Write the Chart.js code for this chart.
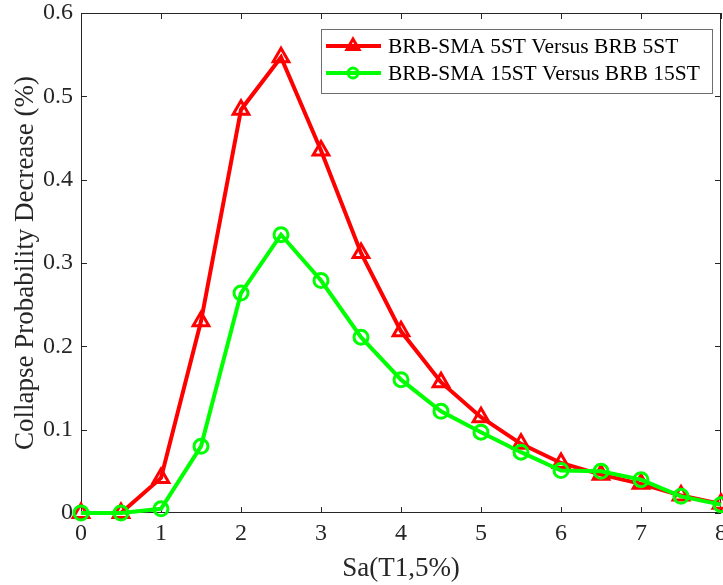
<!DOCTYPE html>
<html>
<head>
<meta charset="utf-8">
<script src="https://cdn.jsdelivr.net/npm/chart.js@4/dist/chart.umd.min.js"></script>
<style>
    html, body { margin: 0; padding: 0; background: #fff; }
    canvas { display: block; }
</style>
</head>
<body>
<canvas id="collapseChart" width="723" height="585"></canvas>
<script>
const saValues = [0, 0.5, 1, 1.5, 2, 2.5, 3, 3.5, 4, 4.5, 5, 5.5, 6, 6.5, 7, 7.5, 8];
const decrease5ST = [0, 0, 0.042, 0.23, 0.484, 0.547, 0.435, 0.312, 0.218, 0.157, 0.115, 0.083, 0.06, 0.046, 0.035, 0.021, 0.011];
const decrease15ST = [0, 0, 0.005, 0.08, 0.264, 0.334, 0.279, 0.211, 0.16, 0.122, 0.097, 0.073, 0.051, 0.05, 0.04, 0.02, 0.01];
const seriesNames = ["BRB-SMA 5ST Versus BRB 5ST", "BRB-SMA 15ST Versus BRB 15ST"];
const xTickLabels = ["0", "1", "2", "3", "4", "5", "6", "7", "8"];
const yTickLabels = ["0", "0.1", "0.2", "0.3", "0.4", "0.5", "0.6"];

const serif = "\"Liberation Serif\", \"Times New Roman\", serif";
const axisColor = "#262626";

function toPoints(xs, ys) {
    return xs.map((x, i) => ({ x: x, y: ys[i] }));
}

// MATLAB-style box with inward ticks on all four sides
const boxPlugin = {
    id: "box",
    beforeDatasetsDraw(chart) {
        const { ctx, chartArea: a, scales } = chart;
        const len = 6;
        ctx.save();
        ctx.strokeStyle = axisColor;
        ctx.lineWidth = 1;
        ctx.strokeRect(a.left + 0.5, a.top + 0.5, a.right - a.left - 1, a.bottom - a.top - 1);
        ctx.beginPath();
        scales.x.ticks.forEach(t => {
            const px = Math.round(scales.x.getPixelForValue(t.value)) + 0.5;
            ctx.moveTo(px, a.bottom);
            ctx.lineTo(px, a.bottom - len);
            ctx.moveTo(px, a.top);
            ctx.lineTo(px, a.top + len);
        });
        scales.y.ticks.forEach(t => {
            const py = Math.round(scales.y.getPixelForValue(t.value)) + 0.5;
            ctx.moveTo(a.left, py);
            ctx.lineTo(a.left + len, py);
            ctx.moveTo(a.right, py);
            ctx.lineTo(a.right - len, py);
        });
        ctx.stroke();
        ctx.restore();
    }
};

const legendBoxPlugin = {
    id: "legendBox",
    afterDatasetsDraw(chart) {
        const { ctx } = chart;
        const left = 321, top = 29, width = 391, height = 64;
        ctx.save();
        ctx.fillStyle = "#ffffff";
        ctx.fillRect(left, top, width, height);
        ctx.strokeStyle = "#6e6e6e";
        ctx.lineWidth = 1;
        ctx.strokeRect(left + 0.5, top + 0.5, width, height);
        ctx.font = "21.5px " + serif;
        ctx.textBaseline = "middle";
        chart.data.datasets.forEach((ds, i) => {
            const y = top + 17 + i * 27;
            ctx.strokeStyle = ds.borderColor;
            ctx.lineWidth = ds.borderWidth;
            ctx.beginPath();
            ctx.moveTo(left + 5, y);
            ctx.lineTo(left + 60, y);
            ctx.stroke();
            ctx.fillStyle = "rgba(255,255,255,0)";
            ctx.lineWidth = ds.pointBorderWidth;
            Chart.helpers.drawPoint(ctx, {
                pointStyle: ds.pointStyle,
                radius: ds.legendRadius,
                borderWidth: ds.pointBorderWidth,
                rotation: 0
            }, left + 32, y);
            ctx.fillStyle = "#000";
            ctx.fillText(ds.label, left + 67, y + 1);
        });
        ctx.restore();
    }
};

new Chart(document.getElementById("collapseChart"), {
    type: "scatter",
    data: {
        datasets: [
            {
                label: seriesNames[0],
                data: toPoints(saValues, decrease5ST),
                showLine: true,
                borderColor: "#ff0000",
                backgroundColor: "rgba(255,255,255,0)",
                borderWidth: 4,
                pointStyle: "triangle",
                pointRadius: 9,
                legendRadius: 7,
                pointBorderWidth: 3,
                pointBorderColor: "#ff0000",
                pointBackgroundColor: "rgba(255,255,255,0)",
                clip: false,
                order: 1
            },
            {
                label: seriesNames[1],
                data: toPoints(saValues, decrease15ST),
                showLine: true,
                borderColor: "#00ff00",
                backgroundColor: "rgba(255,255,255,0)",
                borderWidth: 4,
                pointStyle: "circle",
                pointRadius: 7,
                legendRadius: 5,
                pointBorderWidth: 3,
                pointBorderColor: "#00ff00",
                pointBackgroundColor: "rgba(255,255,255,0)",
                clip: false,
                order: 0
            }
        ]
    },
    options: {
        responsive: false,
        animation: false,
        events: [],
        layout: { autoPadding: false, padding: { left: 10, top: 13, right: 2, bottom: 0 } },
        plugins: {
            legend: { display: false },
            tooltip: { enabled: false }
        },
        scales: {
            x: {
                type: "linear",
                min: 0,
                max: 8,
                grid: { display: false, drawTicks: false, tickLength: 0 },
                border: { display: false },
                ticks: {
                    stepSize: 1,
                    padding: 6,
                    color: axisColor,
                    font: { family: serif, size: 24 },
                    callback: (v, i) => xTickLabels[i]
                },
                title: {
                    display: true,
                    text: "Sa(T1,5%)",
                    color: axisColor,
                    font: { family: serif, size: 27 },
                    padding: { top: 0, bottom: 0 }
                },
                afterFit: scale => {
                    scale.height = 72;
                    scale.paddingLeft = 0;
                    scale.paddingRight = 0;
                }
            },
            y: {
                min: 0,
                max: 0.6,
                grid: { display: false, drawTicks: false, tickLength: 0 },
                border: { display: false },
                ticks: {
                    stepSize: 0.1,
                    padding: 8,
                    color: axisColor,
                    font: { family: serif, size: 24 },
                    callback: (v, i) => yTickLabels[i]
                },
                title: {
                    display: true,
                    text: "Collapse Probability Decrease (%)",
                    color: axisColor,
                    font: { family: serif, size: 27 },
                    padding: { top: 0, bottom: 0 }
                },
                afterFit: scale => {
                    scale.width = 71;
                    scale.paddingTop = 0;
                    scale.paddingBottom = 0;
                }
            }
        }
    },
    plugins: [boxPlugin, legendBoxPlugin]
});
</script>
</body>
</html>
